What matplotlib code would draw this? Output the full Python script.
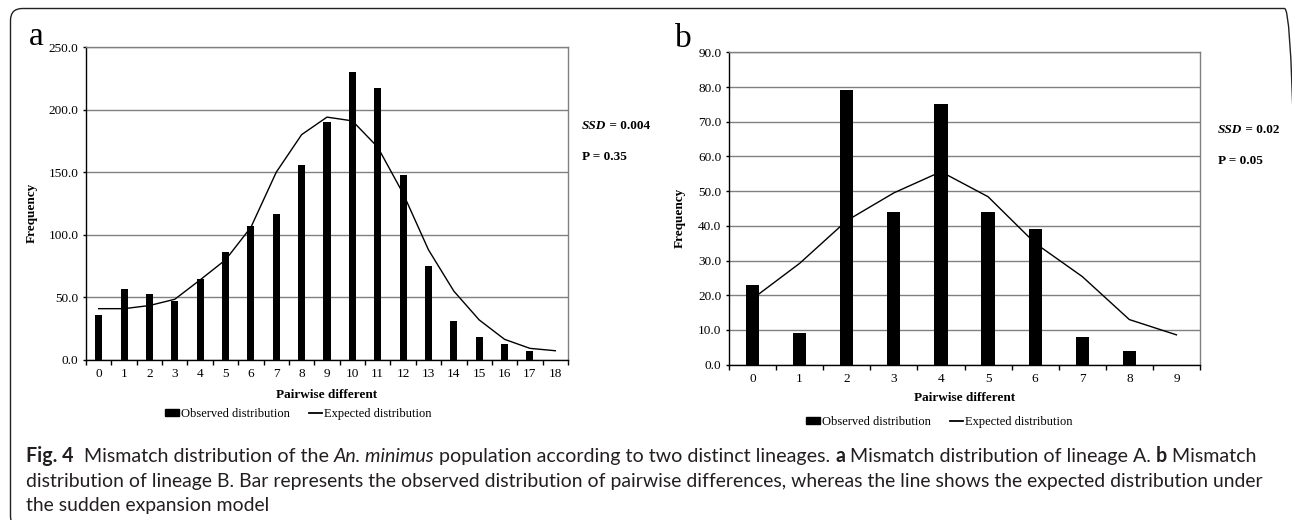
import matplotlib
matplotlib.use("Agg")
import matplotlib.pyplot as plt
from matplotlib.patches import FancyBboxPatch, Patch
from matplotlib.lines import Line2D
from matplotlib.transforms import IdentityTransform
from matplotlib.ticker import FixedLocator

# ---------------- data ----------------
cats_a = list(range(19))
observed_a = [36, 57, 53, 47, 65, 86, 107, 117, 156, 190, 230, 217, 148, 75, 31, 18, 13, 7, 0]
expected_a = [41, 41, 43.5, 48.5, 64, 80, 106, 150, 180, 194, 191, 170, 133, 88, 55, 32, 16.5, 9.3, 7.4]
yticks_a = [0, 50, 100, 150, 200, 250]

cats_b = list(range(10))
observed_b = [23, 9, 79, 44, 75, 44, 39, 8, 4, 0]
expected_b = [19, 29.2, 41.5, 49.5, 55.6, 48.4, 35, 25.4, 13, 8.6]
yticks_b = [0, 10, 20, 30, 40, 50, 60, 70, 80, 90]

stats_a = ("0.004", "0.35")
stats_b = ("0.02", "0.05")

W, H = 1292, 520
SERIF = "Liberation Serif"
SANS = "Lato"
FS = 9.5

fig = plt.figure(figsize=(W / 100, H / 100), dpi=100)
fig.patch.set_facecolor("white")


def px_axes(l, t, r, b):
    return fig.add_axes([l / W, 1 - b / H, (r - l) / W, (b - t) / H])


def style_panel(ax, cats, obs, exp, yticks, ylabel_x, xlabel_y):
    n = len(cats)
    ax.bar(cats, obs, width=0.28, color="black", zorder=3)
    ax.plot(cats, exp, color="black", lw=1.0, zorder=4)
    ax.set_xlim(-0.5, n - 0.5)
    ax.set_ylim(yticks[0], yticks[-1])
    ax.set_yticks(yticks)
    ax.set_yticklabels([f"{v:.1f}" for v in yticks], family=SERIF, fontsize=FS)
    ax.set_xticks(cats)
    ax.set_xticklabels([str(c) for c in cats], family=SERIF, fontsize=FS)
    ax.xaxis.set_minor_locator(FixedLocator([c - 0.5 for c in cats] + [n - 0.5]))
    ax.tick_params(axis="x", which="major", length=0, pad=6.0)
    ax.tick_params(axis="x", which="minor", length=3.5, width=1.0, direction="out", color="black")
    ax.tick_params(axis="y", which="major", length=2.5, width=1.0, direction="out", pad=3)
    ax.yaxis.grid(True, color="#808080", lw=1.0, zorder=0)
    ax.set_axisbelow(True)
    for s in ("top", "right"):
        ax.spines[s].set_color("#808080")
        ax.spines[s].set_linewidth(1.0)
    for s in ("left", "bottom"):
        ax.spines[s].set_color("black")
        ax.spines[s].set_linewidth(1.0)
    ax.set_ylabel("Frequency", family=SERIF, fontsize=FS, fontweight="bold", va="center")
    ax.yaxis.set_label_coords(ylabel_x, 0.47)
    ax.set_xlabel("Pairwise different", family=SERIF, fontsize=FS, fontweight="bold", va="center")
    ax.xaxis.set_label_coords(0.5, xlabel_y)


ax_a = px_axes(86, 47, 568, 360)
style_panel(ax_a, cats_a, observed_a, expected_a, yticks_a, (32 - 86) / 482, (360 - 395) / 313)
ax_b = px_axes(729, 52.3, 1200, 364.7)
style_panel(ax_b, cats_b, observed_b, expected_b, yticks_b, (680 - 729) / 471, (364.7 - 398) / 312.4)

# panel letters
fig.text(36 / W, 1 - 45 / H, "a", family=SERIF, fontsize=24, ha="center", va="baseline")
fig.text(683 / W, 1 - 47 / H, "b", family=SERIF, fontsize=24, ha="center", va="baseline")

renderer = fig.canvas.get_renderer()


# stats text
def stats(x, y1, y2, ssd, p):
    t1 = fig.text(x / W, 1 - y1 / H, "SSD", family=SERIF, fontsize=FS, fontweight="bold",
                  style="italic", va="center", ha="left")
    bb = t1.get_window_extent(renderer)
    fig.text(bb.x1 / W, 1 - y1 / H, " = " + ssd, family=SERIF, fontsize=FS, fontweight="bold",
             va="center", ha="left")
    fig.text(x / W, 1 - y2 / H, "P = " + p, family=SERIF, fontsize=FS, fontweight="bold",
             va="center", ha="left")


stats(582, 126, 157, *stats_a)
stats(1218, 130, 161, *stats_b)


# legends
def legend(cx, cy):
    handles = [Patch(facecolor="black", edgecolor="black"),
               Line2D([0], [0], color="black", lw=1.3)]
    fig.legend(handles, ["Observed distribution", "Expected distribution"],
               loc="center", bbox_to_anchor=(cx / W, 1 - cy / H), ncol=2, frameon=False,
               prop={"family": SERIF, "size": 9}, handlelength=1.1, handleheight=0.45,
               handletextpad=0.15, columnspacing=1.5, borderaxespad=0, borderpad=0)


legend(298.5, 414)
legend(939.5, 422)

# border (bottom and right edges lie just outside the image, as in the reference)
fig.add_artist(FancyBboxPatch((10.5, -8), 1286, 520 - 8.5 + 8, boxstyle="round,pad=0,rounding_size=12",
                              transform=IdentityTransform(), fill=False, lw=1.0, ec="#222222"))


# caption with mixed styles
def text_width(s, size, weight, style):
    t = fig.text(0, 0, "|" + s + "|", family=SANS, fontsize=size, fontweight=weight, fontstyle=style)
    t0 = fig.text(0, 0, "||", family=SANS, fontsize=size, fontweight=weight, fontstyle=style)
    w = t.get_window_extent(renderer).width - t0.get_window_extent(renderer).width
    t.remove(); t0.remove()
    return w


line1 = [("Fig. 4", "bold", "normal"), ("  Mismatch distribution of the ", "normal", "normal"),
         ("An. minimus", "normal", "italic"),
         (" population according to two distinct lineages. ", "normal", "normal"),
         ("a", "bold", "normal"), (" Mismatch distribution of lineage A. ", "normal", "normal"),
         ("b", "bold", "normal"), (" Mismatch", "normal", "normal")]
line2 = [("distribution of lineage B. Bar represents the observed distribution of pairwise "
          "differences, whereas the line shows the expected distribution under", "normal", "normal")]
line3 = [("the sudden expansion model", "normal", "normal")]

X0 = 26


def fit_size(runs, right):
    base = 12
    w = sum(text_width(s, base, wt, st) for s, wt, st in runs)
    return base * (right - X0) / w


size1 = fit_size(line1, 1252)
size2 = fit_size(line2, 1255)


def draw_runs(runs, y_baseline, size):
    x = X0
    for s, wt, st in runs:
        fig.text(x, H - y_baseline, s, family=SANS, fontsize=size, fontweight=wt, fontstyle=st,
                 transform=IdentityTransform(), va="baseline", ha="left", color="#231f20")
        x += text_width(s, size, wt, st)


draw_runs(line1, 462, size1)
draw_runs(line2, 487, size2)
draw_runs(line3, 511, size2)

fig.savefig("out.png", dpi=100, facecolor="white")
